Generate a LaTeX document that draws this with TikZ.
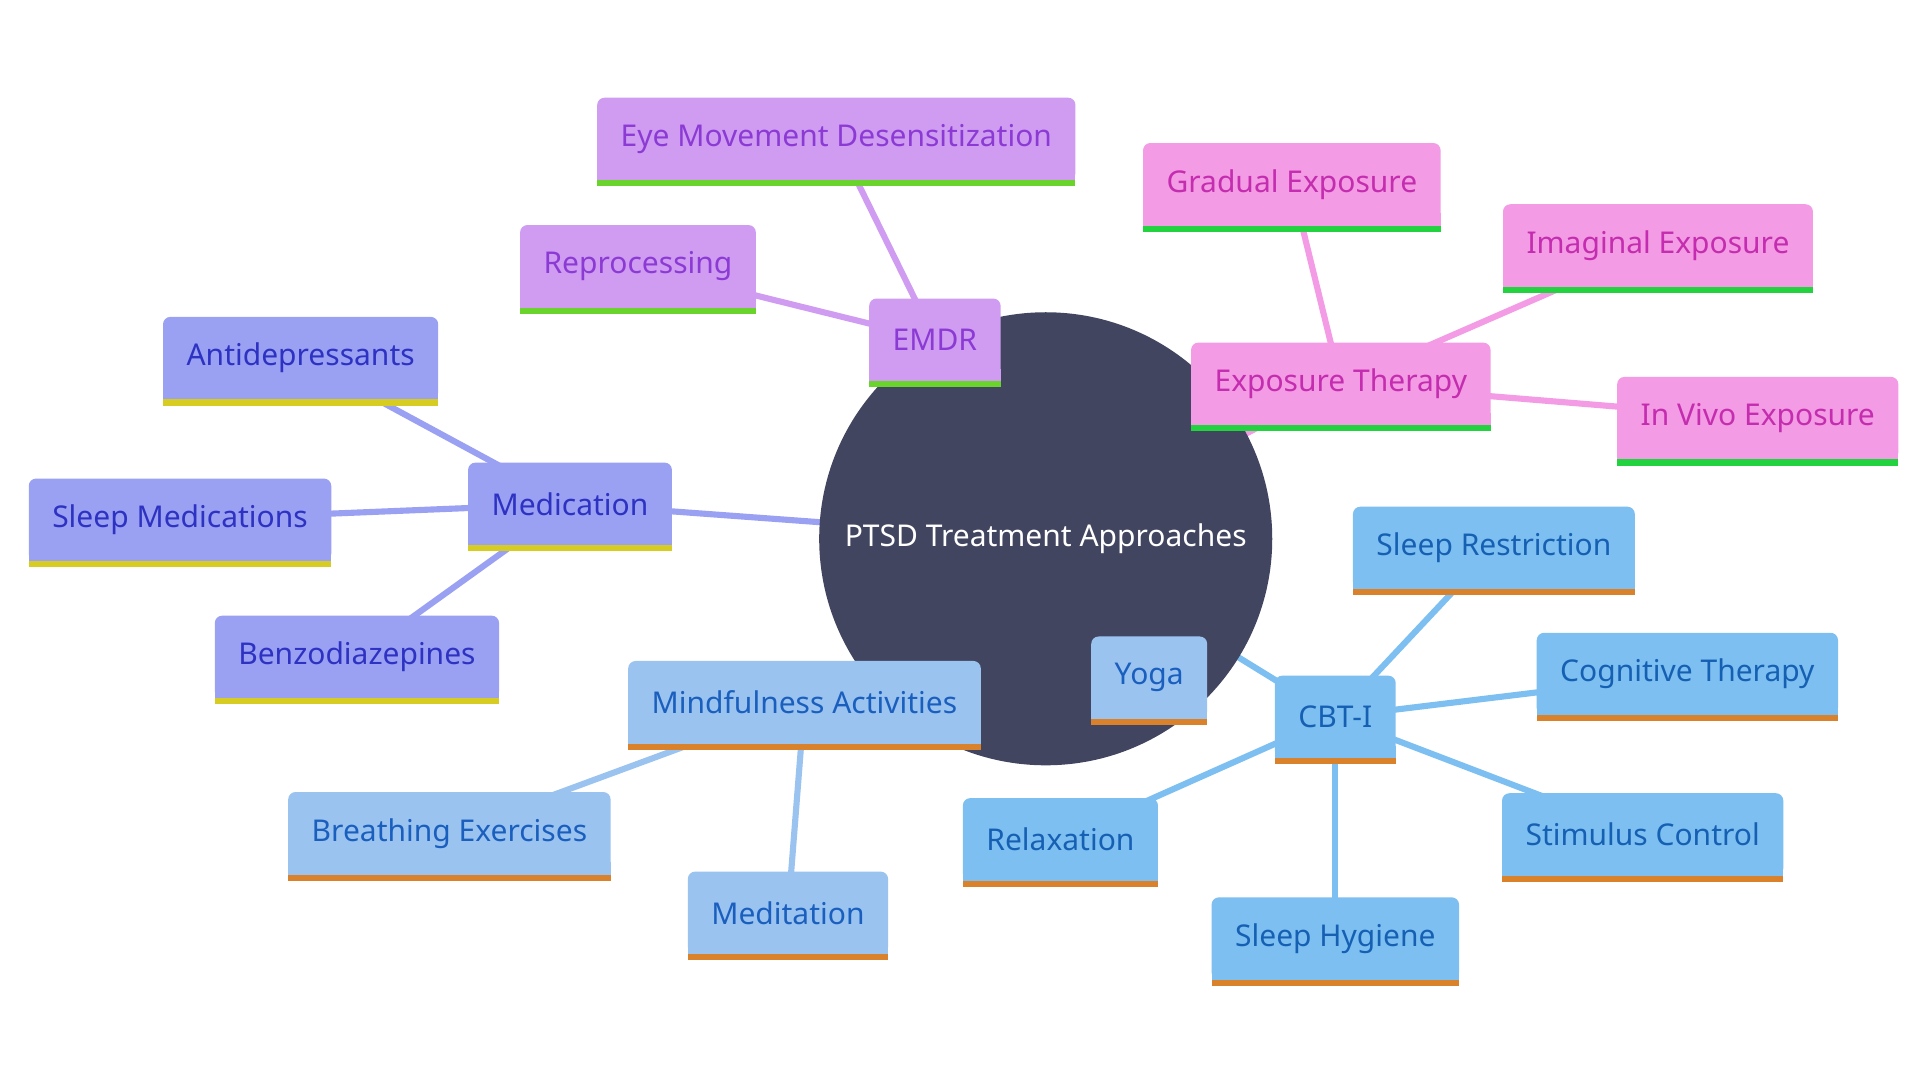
\documentclass[tikz,border=0pt]{standalone}
\usepackage{fontspec}
\setmainfont{Noto Sans}
\usepackage{tikz}
\usetikzlibrary{positioning}
\definecolor{hubFill}{HTML}{41455F}
\definecolor{emdrFill}{HTML}{CF9CF2}
\definecolor{emdrText}{HTML}{8C3AD4}
\definecolor{emdrStripe}{HTML}{6AD42C}
\definecolor{expoFill}{HTML}{F39BE4}
\definecolor{expoText}{HTML}{C42DAF}
\definecolor{expoStripe}{HTML}{22D33F}
\definecolor{mediFill}{HTML}{9AA0F2}
\definecolor{mediText}{HTML}{2D32C2}
\definecolor{mediStripe}{HTML}{D6CC22}
\definecolor{mindFill}{HTML}{9AC3F0}
\definecolor{mindText}{HTML}{1A5FBE}
\definecolor{mindStripe}{HTML}{D9822B}
\definecolor{cbtFill}{HTML}{7DBFF0}
\definecolor{cbtText}{HTML}{1660B4}
\definecolor{cbtStripe}{HTML}{D9822B}
\pgfdeclarelayer{edges}
\pgfdeclarelayer{hubs}
\pgfdeclarelayer{boxes}
\pgfsetlayers{edges,hubs,boxes,main}
\tikzset{
    topic/.style={inner xsep=19pt, inner ysep=0pt, minimum height=67pt, font=\fontsize{24.5}{28}\selectfont},
    emdr/.style={topic, text=emdrText},
    expo/.style={topic, text=expoText},
    medi/.style={topic, text=mediText},
    mind/.style={topic, text=mindText},
    cbt/.style={topic, text=cbtText},
    link/.style={line width=5pt},
}

\begin{document}
\begin{tikzpicture}[x=1pt, y=-1pt]
    \useasboundingbox (0,0) rectangle (1568,882);

    % centre
    \node [circle, minimum size=370pt, inner sep=0pt, text=white, font=\fontsize{24.5}{28}\selectfont] (hub) at (854,440) {PTSD Treatment Approaches};
    \begin{pgfonlayer}{hubs}
        \fill [hubFill] (hub.center) circle (185);
    \end{pgfonlayer}

    % branches
    \node [emdr] (emdr) at (763.5,277.5) {EMDR};
    \node [emdr] (eye) at (683,113.5) {Eye Movement Desensitization};
    \node [emdr] (reproc) at (521,217.5) {Reprocessing};

    \node [expo] (expo) at (1095,313.5) {Exposure Therapy};
    \node [expo] (gradual) at (1055,150.5) {Gradual Exposure};
    \node [expo] (imaginal) at (1354,200.5) {Imaginal Exposure};
    \node [expo] (invivo) at (1435.5,341.5) {In Vivo Exposure};

    \node [medi] (medi) at (465.5,411.5) {Medication};
    \node [medi] (antidep) at (245.5,292.5) {Antidepressants};
    \node [medi] (sleepmed) at (147,424.5) {Sleep Medications};
    \node [medi] (benzo) at (291.5,536.5) {Benzodiazepines};

    \node [mind] (mind) at (657,573.5) {Mindfulness Activities};
    \node [mind] (breath) at (367,680.5) {Breathing Exercises};
    \node [mind] (medit) at (643.5,745.5) {Meditation};
    \node [mind] (yoga) at (938.5,553.5) {Yoga};

    \node [cbt] (cbt) at (1090.5,585.5) {CBT-I};
    \node [cbt] (restrict) at (1220,447.5) {Sleep Restriction};
    \node [cbt] (cognit) at (1378,550.5) {Cognitive Therapy};
    \node [cbt] (stimulus) at (1341.5,681.5) {Stimulus Control};
    \node [cbt] (hygiene) at (1090.5,766.5) {Sleep Hygiene};
    \node [cbt] (relax) at (866,685.5) {Relaxation};

    % boxes
    \begin{pgfonlayer}{boxes}
        \foreach \nd/\br in {emdr/emdr, eye/emdr, reproc/emdr, expo/expo, gradual/expo, imaginal/expo, invivo/expo,
            medi/medi, antidep/medi, sleepmed/medi, benzo/medi, mind/mind, breath/mind, medit/mind, yoga/mind,
            cbt/cbt, restrict/cbt, cognit/cbt, stimulus/cbt, hygiene/cbt, relax/cbt} {
            \fill [\br Fill, rounded corners=6pt] (\nd.south west) rectangle (\nd.north east);
            \fill [\br Fill] (\nd.south west) rectangle ([yshift=10pt]\nd.south east);
            \fill [\br Stripe] (\nd.south west) rectangle ([yshift=-5pt]\nd.south east);
        }
    \end{pgfonlayer}

    % connectors
    \begin{pgfonlayer}{edges}
        \foreach \from/\to/\br in {hub/emdr/emdr, emdr/eye/emdr, emdr/reproc/emdr,
            hub/expo/expo, expo/gradual/expo, expo/imaginal/expo, expo/invivo/expo,
            hub/medi/medi, medi/antidep/medi, medi/sleepmed/medi, medi/benzo/medi,
            hub/mind/mind, mind/breath/mind, mind/medit/mind, mind/yoga/mind,
            hub/cbt/cbt, cbt/restrict/cbt, cbt/cognit/cbt, cbt/stimulus/cbt, cbt/hygiene/cbt, cbt/relax/cbt} {
            \draw [link, \br Fill] (\from.center) -- (\to.center);
        }
    \end{pgfonlayer}
\end{tikzpicture}
\end{document}
